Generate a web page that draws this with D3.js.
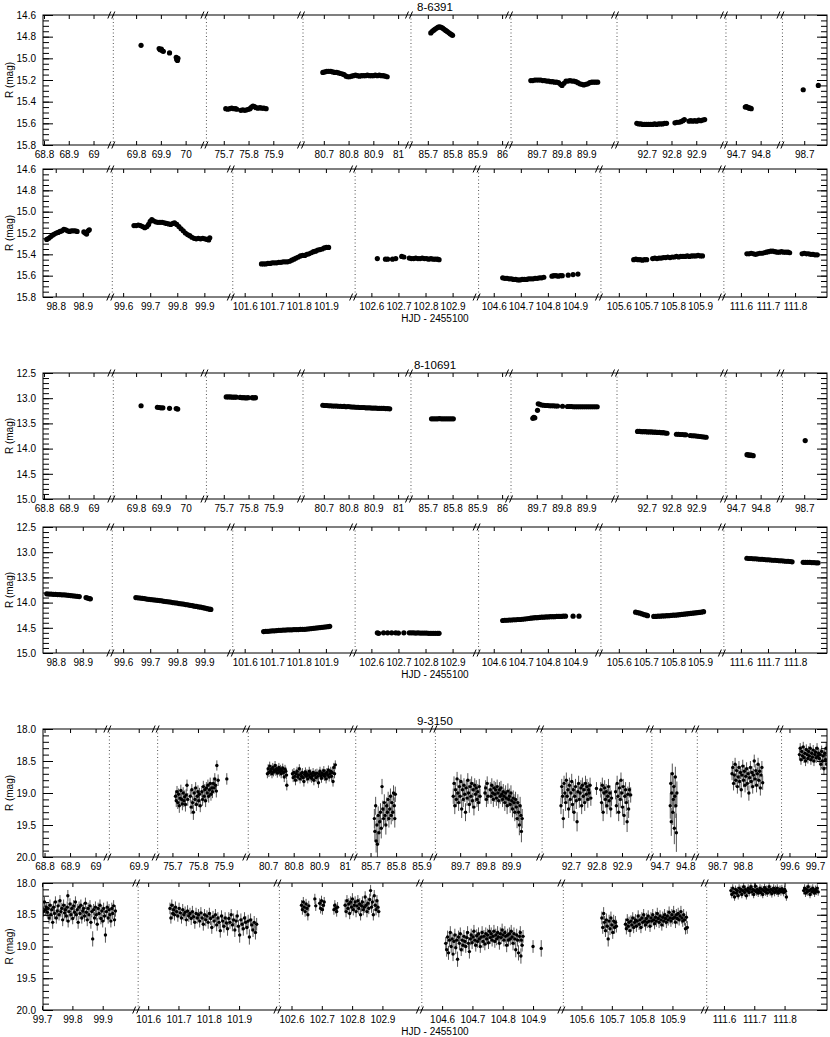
<!DOCTYPE html>
<meta charset="utf-8">

<!-- Load d3.js -->
<script src="https://d3js.org/d3.v7.min.js"></script>

<style>
  body { margin: 0; background: #fff; }
  text { font-family: "Liberation Sans", Arial, Helvetica, sans-serif; fill: #000; }
</style>

<div id="chart"></div>

<script>
// star names
const stars = ["8-6391", "8-10691", "9-3150"];

// windows of the broken time axis (HJD - 2455100) and their tick labels
const segsA = [[68.796,69.08],[69.708,70.084],[75.63,76.02],[80.616,81.052],[85.632,86.036],[89.596,90.024],[92.58,93.02],[94.66,94.888],[98.612,98.792]];
const ticksA = [[68.8,68.9,69],[69.8,69.9,70],[75.7,75.8,75.9],[80.7,80.8,80.9,81],[85.7,85.8,85.9,86],[89.7,89.8,89.9],[92.7,92.8,92.9],[94.7,94.8],[98.7]];
const segsB = [[98.753,99.009],[99.56,100.005],[101.556,102.008],[102.54,102.996],[104.544,104.996],[105.534,105.988],[111.537,111.918]];
const ticksB = [[98.8,98.9],[99.6,99.7,99.8,99.9],[101.6,101.7,101.8,101.9],[102.6,102.7,102.8,102.9],[104.6,104.7,104.8,104.9],[105.6,105.7,105.8,105.9],[111.6,111.7,111.8]];
const segsC = [[68.794,69.054],[69.785,69.974],[75.642,75.997],[80.622,81.043],[85.642,85.954],[89.603,90.021],[92.587,93.017],[94.669,94.847],[98.622,98.952],[99.569,99.747]];
const ticksC = [[68.8,68.9,69],[69.9],[75.7,75.8,75.9],[80.7,80.8,80.9,81],[85.7,85.8,85.9],[89.7,89.8,89.9],[92.7,92.8,92.9],[94.7,94.8],[98.7,98.8],[99.6,99.7]];
const segsD = [[99.703,100.017],[101.567,102.033],[102.56,103.03],[104.533,105.0],[105.54,106.013],[111.543,111.94]];
const ticksD = [[99.7,99.8,99.9],[101.6,101.7,101.8,101.9],[102.6,102.7,102.8,102.9],[104.6,104.7,104.8,104.9],[105.6,105.7,105.8,105.9],[111.6,111.7,111.8]];

// the 8-xxxx light curves are split between the two rows at this time
const rowSplit = 98.76;

// magnitude ranges and labelled ticks
const yDom6391 = [14.6, 15.8];
const yMaj6391 = [14.6, 14.8, 15.0, 15.2, 15.4, 15.6, 15.8];
const yDom10691 = [12.5, 15.0];
const yMaj10691 = [12.5, 13.0, 13.5, 14.0, 14.5, 15.0];
const yDom3150 = [18.0, 20.0];
const yMaj3150 = [18.0, 18.5, 19.0, 19.5, 20.0];

// 8-6391 : [HJD-2455100, R]
const obs6391 = [
[69.82,14.88],[69.893,14.91],[69.897,14.92],[69.902,14.915],[69.906,14.93],[69.91,14.935],[69.935,14.95],[69.962,14.99],[69.964,15.01],[69.967,15.02],[69.969,15.0],
[75.708,15.465],[75.716,15.47],[75.724,15.465],[75.732,15.46],[75.74,15.465],[75.748,15.465],[75.753,15.47],
[75.769,15.48],[75.777,15.475],[75.785,15.48],[75.793,15.475],[75.8,15.47],[75.806,15.465],[75.812,15.45],[75.818,15.44],[75.824,15.445],[75.83,15.455],[75.838,15.46],[75.846,15.455],[75.854,15.46],[75.862,15.46],[75.871,15.465],
[80.696,15.13],[80.704,15.125],[80.712,15.12],[80.72,15.12],[80.728,15.12],[80.736,15.125],[80.744,15.13],[80.752,15.13],[80.76,15.135],[80.768,15.14],[80.776,15.145],[80.782,15.15],
[80.79,15.165],[80.797,15.17],[80.804,15.17],[80.812,15.165],[80.82,15.16],[80.828,15.155],[80.836,15.16],[80.844,15.165],[80.852,15.16],[80.86,15.16],[80.868,15.16],[80.876,15.155],[80.884,15.16],[80.892,15.16],[80.9,15.16],[80.908,15.155],[80.916,15.16],[80.924,15.155],[80.932,15.16],[80.94,15.16],[80.948,15.165],[80.956,15.17],
[85.712,14.765],[85.718,14.75],[85.724,14.74],[85.73,14.73],[85.736,14.72],[85.742,14.712],[85.748,14.709],[85.754,14.714],[85.76,14.722],[85.766,14.732],[85.772,14.742],[85.778,14.752],[85.784,14.762],[85.79,14.772],[85.796,14.782],[85.8,14.788],
[89.676,15.205],[89.684,15.205],[89.692,15.2],[89.7,15.2],[89.708,15.2],[89.716,15.2],[89.724,15.205],[89.732,15.205],[89.74,15.21],[89.748,15.21],[89.756,15.215],[89.764,15.215],[89.772,15.22],[89.78,15.22],[89.788,15.225],[89.796,15.24],[89.802,15.25],[89.81,15.23],[89.818,15.21],[89.826,15.21],[89.834,15.205],[89.842,15.21],[89.85,15.21],[89.858,15.215],[89.866,15.225],[89.874,15.235],[89.882,15.24],[89.89,15.245],[89.898,15.24],[89.906,15.235],[89.914,15.225],[89.922,15.22],[89.93,15.22],[89.938,15.22],[89.946,15.22],
[92.66,15.6],[92.668,15.605],[92.676,15.605],[92.684,15.61],[92.692,15.61],[92.7,15.61],[92.708,15.61],[92.716,15.61],[92.724,15.61],[92.732,15.605],[92.74,15.61],[92.748,15.605],[92.756,15.605],[92.764,15.605],[92.772,15.6],[92.78,15.6],
[92.814,15.595],[92.822,15.59],[92.83,15.59],[92.838,15.585],[92.846,15.575],[92.852,15.565],
[92.871,15.58],[92.878,15.575],[92.886,15.58],[92.894,15.575],[92.902,15.58],[92.91,15.57],[92.918,15.575],[92.926,15.57],[92.934,15.565],
[94.738,15.45],[94.742,15.445],[94.746,15.45],[94.75,15.455],[94.754,15.46],[94.758,15.46],[94.762,15.465],
[98.696,15.29],[98.757,15.25],
[98.767,15.26],[98.774,15.25],[98.781,15.235],[98.788,15.22],[98.795,15.21],[98.802,15.2],[98.809,15.195],[98.816,15.185],[98.823,15.18],[98.83,15.165],[98.837,15.17],[98.844,15.18],[98.851,15.185],[98.858,15.18],[98.865,15.18],[98.872,15.18],[98.879,15.185],
[98.904,15.19],[98.909,15.2],[98.914,15.21],[98.92,15.18],[98.924,15.17],
[99.64,15.13],[99.648,15.13],[99.656,15.125],[99.664,15.13],[99.672,15.14],[99.68,15.15],[99.688,15.14],[99.694,15.12],[99.7,15.09],[99.706,15.075],[99.712,15.085],[99.72,15.095],[99.728,15.1],[99.736,15.1],[99.744,15.1],[99.752,15.105],[99.76,15.11],[99.768,15.115],[99.776,15.12],[99.784,15.11],[99.79,15.105],[99.798,15.12],[99.806,15.14],[99.814,15.16],[99.822,15.18],[99.83,15.2],[99.838,15.215],[99.846,15.225],[99.854,15.24],[99.862,15.25],[99.87,15.255],[99.878,15.25],[99.886,15.255],[99.894,15.25],[99.902,15.255],[99.91,15.26],[99.916,15.265],[99.92,15.245],
[101.662,15.49],[101.67,15.49],[101.678,15.49],[101.686,15.485],[101.694,15.485],[101.702,15.48],[101.71,15.48],[101.718,15.48],[101.726,15.475],[101.734,15.475],[101.742,15.47],[101.75,15.47],[101.758,15.47],[101.766,15.465],[101.774,15.455],[101.782,15.445],[101.79,15.435],[101.798,15.425],[101.806,15.415],[101.814,15.41],[101.822,15.41],[101.83,15.4],[101.838,15.395],[101.846,15.385],[101.854,15.375],[101.862,15.37],[101.87,15.36],[101.878,15.355],[101.886,15.35],[101.894,15.34],[101.902,15.335],[101.91,15.335],
[102.622,15.44],[102.652,15.445],[102.66,15.445],[102.678,15.445],[102.69,15.44],[102.712,15.42],[102.72,15.425],[102.74,15.435],[102.748,15.44],[102.756,15.44],[102.764,15.435],[102.772,15.44],[102.78,15.44],[102.788,15.435],[102.796,15.44],[102.804,15.44],[102.812,15.445],[102.82,15.44],[102.828,15.445],[102.836,15.445],[102.844,15.445],[102.85,15.45],
[104.633,15.62],[104.641,15.625],[104.649,15.625],[104.657,15.63],[104.665,15.63],[104.673,15.635],[104.681,15.635],[104.689,15.64],[104.697,15.64],[104.705,15.635],[104.713,15.635],[104.721,15.635],[104.729,15.63],[104.737,15.63],[104.745,15.63],[104.753,15.625],[104.761,15.625],[104.769,15.62],[104.777,15.62],[104.785,15.615],
[104.815,15.605],[104.822,15.6],[104.83,15.6],[104.838,15.605],[104.846,15.6],[104.853,15.6],[104.875,15.595],[104.893,15.59],[104.911,15.585],
[105.655,15.45],[105.663,15.445],[105.671,15.45],[105.679,15.45],[105.687,15.455],[105.695,15.45],[105.703,15.45],
[105.725,15.44],[105.733,15.435],[105.741,15.44],[105.749,15.435],[105.757,15.435],[105.765,15.43],[105.773,15.43],[105.781,15.425],[105.789,15.43],[105.797,15.425],[105.805,15.425],[105.813,15.42],[105.821,15.425],[105.829,15.42],[105.837,15.42],[105.845,15.42],[105.853,15.415],[105.861,15.42],[105.869,15.415],[105.877,15.415],[105.885,15.415],[105.893,15.41],[105.901,15.415],[105.909,15.415],
[111.622,15.395],[111.63,15.395],[111.638,15.39],[111.646,15.395],[111.654,15.4],[111.662,15.395],[111.67,15.39],[111.678,15.39],[111.686,15.385],[111.694,15.38],[111.702,15.375],[111.71,15.37],[111.718,15.37],[111.726,15.375],[111.734,15.38],[111.742,15.38],[111.75,15.375],[111.758,15.38],[111.766,15.38],[111.774,15.38],[111.78,15.385],
[111.826,15.395],[111.834,15.39],[111.842,15.395],[111.85,15.395],[111.858,15.4],[111.866,15.4],[111.874,15.405],[111.882,15.405]
];

// 8-10691 : [HJD-2455100, R]
const obs10691 = [
[69.82,13.15],[69.886,13.18],[69.893,13.185],[69.9,13.19],[69.908,13.19],[69.935,13.2],[69.962,13.205],[69.968,13.215],
[75.71,12.975],[75.718,12.975],[75.726,12.975],[75.734,12.98],[75.742,12.98],[75.75,12.98],[75.766,12.985],[75.774,12.99],[75.782,12.99],[75.79,12.995],[75.798,12.99],[75.815,12.99],[75.822,12.995],[75.828,12.99],
[80.696,13.14],[80.704,13.145],[80.712,13.145],[80.72,13.15],[80.728,13.15],[80.736,13.155],[80.744,13.155],[80.752,13.155],[80.76,13.16],[80.768,13.16],[80.776,13.165],[80.782,13.16],[80.79,13.17],[80.798,13.165],[80.806,13.17],[80.814,13.175],[80.822,13.175],[80.83,13.18],[80.838,13.18],[80.846,13.185],[80.854,13.185],[80.862,13.185],[80.87,13.19],[80.878,13.19],[80.886,13.19],[80.894,13.195],[80.902,13.195],[80.91,13.195],[80.918,13.2],[80.926,13.2],[80.934,13.2],[80.942,13.2],[80.95,13.205],[80.958,13.205],[80.966,13.21],
[85.715,13.41],[85.723,13.41],[85.731,13.41],[85.739,13.41],[85.747,13.405],[85.755,13.41],[85.763,13.41],[85.771,13.41],[85.779,13.41],[85.787,13.41],[85.795,13.41],[85.803,13.41],
[89.684,13.4],[89.688,13.38],[89.692,13.39],[89.703,13.24],[89.706,13.11],[89.712,13.12],[89.72,13.135],[89.728,13.14],[89.736,13.145],[89.744,13.145],[89.752,13.15],[89.76,13.15],[89.768,13.15],[89.776,13.155],[89.784,13.155],[89.804,13.16],[89.824,13.165],[89.832,13.165],[89.84,13.165],[89.848,13.17],[89.856,13.17],[89.864,13.17],[89.872,13.17],[89.88,13.17],[89.888,13.17],[89.896,13.17],[89.904,13.17],[89.912,13.17],[89.92,13.17],[89.928,13.17],[89.936,13.17],[89.944,13.17],
[92.663,13.66],[92.671,13.66],[92.679,13.665],[92.687,13.665],[92.695,13.665],[92.703,13.67],[92.711,13.67],[92.719,13.67],[92.727,13.675],[92.735,13.675],[92.743,13.68],[92.751,13.68],[92.759,13.685],[92.767,13.685],[92.775,13.69],[92.782,13.695],
[92.82,13.715],[92.828,13.715],[92.836,13.72],[92.844,13.72],[92.852,13.725],[92.858,13.725],
[92.876,13.74],[92.884,13.745],[92.892,13.745],[92.9,13.75],[92.908,13.755],[92.916,13.76],[92.924,13.765],[92.932,13.77],[92.94,13.775],
[94.745,14.12],[94.75,14.125],[94.755,14.13],[94.76,14.13],[94.765,14.135],[94.77,14.14],
[98.704,13.84],
[98.767,13.825],[98.775,13.83],[98.783,13.83],[98.791,13.835],[98.799,13.835],[98.807,13.84],[98.815,13.84],[98.823,13.845],[98.831,13.845],[98.839,13.85],[98.847,13.855],[98.855,13.86],[98.863,13.865],[98.871,13.87],[98.879,13.875],[98.887,13.88],
[98.912,13.9],[98.918,13.91],[98.924,13.92],[98.928,13.925],
[99.647,13.9],[99.655,13.905],[99.663,13.91],[99.671,13.915],[99.679,13.92],[99.687,13.93],[99.695,13.935],[99.703,13.94],[99.711,13.945],[99.719,13.95],[99.727,13.955],[99.735,13.96],[99.743,13.965],[99.751,13.975],[99.759,13.98],[99.767,13.985],[99.775,13.99],[99.783,14.0],[99.791,14.005],[99.799,14.01],[99.807,14.02],[99.815,14.025],[99.823,14.03],[99.831,14.04],[99.839,14.045],[99.847,14.055],[99.855,14.06],[99.863,14.07],[99.871,14.075],[99.879,14.085],[99.887,14.09],[99.895,14.1],[99.903,14.11],[99.911,14.12],[99.919,14.13],[99.924,14.135],
[101.67,14.575],[101.678,14.57],[101.686,14.57],[101.694,14.565],[101.702,14.56],[101.71,14.56],[101.718,14.555],[101.726,14.55],[101.734,14.55],[101.742,14.545],[101.75,14.545],[101.758,14.54],[101.766,14.54],[101.774,14.54],[101.782,14.535],[101.79,14.535],[101.798,14.535],[101.806,14.53],[101.814,14.53],[101.822,14.53],[101.83,14.525],[101.838,14.52],[101.846,14.515],[101.854,14.51],[101.862,14.505],[101.87,14.5],[101.878,14.495],[101.886,14.49],[101.894,14.485],[101.902,14.48],[101.91,14.475],[101.914,14.47],
[102.622,14.6],[102.627,14.61],[102.645,14.6],[102.66,14.6],[102.675,14.6],[102.69,14.6],[102.7,14.605],[102.72,14.6],[102.74,14.6],[102.748,14.6],[102.756,14.6],[102.764,14.605],[102.772,14.6],[102.78,14.605],[102.788,14.605],[102.796,14.605],[102.804,14.605],[102.812,14.61],[102.82,14.61],[102.828,14.61],[102.836,14.61],[102.844,14.61],[102.85,14.61],
[104.633,14.355],[104.641,14.35],[104.649,14.35],[104.657,14.345],[104.665,14.345],[104.673,14.34],[104.681,14.34],[104.689,14.335],[104.697,14.335],[104.705,14.33],[104.713,14.325],[104.721,14.32],[104.729,14.315],[104.737,14.31],[104.745,14.305],[104.753,14.3],[104.761,14.3],[104.769,14.295],[104.777,14.29],[104.785,14.29],[104.793,14.285],[104.801,14.285],[104.809,14.28],[104.817,14.28],[104.825,14.28],[104.833,14.275],[104.841,14.275],[104.849,14.275],[104.857,14.27],[104.865,14.27],
[104.893,14.27],[104.915,14.27],
[105.662,14.19],[105.67,14.2],[105.678,14.21],[105.686,14.225],[105.694,14.24],[105.702,14.25],[105.706,14.26],
[105.729,14.275],[105.737,14.275],[105.745,14.27],[105.753,14.27],[105.761,14.265],[105.769,14.265],[105.777,14.26],[105.785,14.26],[105.793,14.255],[105.801,14.25],[105.809,14.25],[105.817,14.245],[105.825,14.24],[105.833,14.235],[105.841,14.23],[105.849,14.225],[105.857,14.22],[105.865,14.215],[105.873,14.21],[105.881,14.205],[105.889,14.2],[105.897,14.195],[105.905,14.19],[105.913,14.18],
[111.622,13.12],[111.63,13.125],[111.638,13.125],[111.646,13.13],[111.654,13.13],[111.662,13.135],[111.67,13.14],[111.678,13.14],[111.686,13.145],[111.694,13.15],[111.702,13.15],[111.71,13.155],[111.718,13.16],[111.726,13.16],[111.734,13.165],[111.742,13.17],[111.75,13.17],[111.758,13.175],[111.766,13.18],[111.774,13.18],[111.782,13.185],[111.789,13.19],
[111.83,13.2],[111.838,13.2],[111.846,13.2],[111.854,13.2],[111.862,13.205],[111.87,13.205],[111.878,13.21],[111.885,13.21]
];

// 9-3150 : [HJD-2455100, R, error]
const obs3150 = [
[75.712,19.05,0.09],[75.715,19.12,0.1],[75.718,18.98,0.09],[75.721,19.15,0.1],[75.724,19.02,0.09],[75.727,19.2,0.11],[75.73,19.08,0.1],[75.733,18.96,0.09],[75.736,19.1,0.1],[75.739,19.17,0.1],[75.742,19.0,0.09],[75.745,19.12,0.1],[75.748,19.06,0.1],[75.751,19.18,0.11],[75.754,19.03,0.09],[75.757,18.88,0.09],[75.76,19.1,0.1],
[75.77,19.05,0.1],[75.773,19.22,0.11],[75.776,18.95,0.09],[75.779,19.15,0.1],[75.782,19.3,0.12],[75.785,19.0,0.09],[75.788,19.1,0.1],[75.791,18.92,0.09],[75.794,19.18,0.1],[75.797,19.05,0.1],[75.8,18.98,0.1],[75.803,19.12,0.1],[75.806,19.02,0.1],[75.809,19.2,0.1],
[75.815,18.98,0.09],[75.818,19.1,0.1],[75.821,18.9,0.09],[75.824,19.05,0.1],[75.827,18.95,0.09],[75.83,19.12,0.1],[75.833,18.92,0.09],[75.836,19.0,0.1],[75.839,18.88,0.09],[75.842,19.05,0.1],[75.845,18.95,0.09],[75.848,18.85,0.09],[75.851,19.02,0.1],[75.854,18.92,0.09],[75.857,18.98,0.1],[75.86,18.85,0.09],[75.863,18.92,0.09],[75.866,18.78,0.09],[75.869,18.88,0.09],[75.872,18.97,0.1],[75.874,18.57,0.08],[75.879,18.8,0.09],[75.913,18.78,0.09],
[80.697,18.7,0.07],[80.7,18.62,0.07],[80.703,18.68,0.07],[80.706,18.58,0.07],[80.709,18.66,0.07],[80.712,18.63,0.07],[80.715,18.7,0.07],[80.718,18.6,0.07],[80.721,18.67,0.07],[80.724,18.64,0.07],[80.727,18.57,0.07],[80.73,18.66,0.07],[80.733,18.62,0.07],[80.736,18.69,0.07],[80.739,18.64,0.07],[80.742,18.6,0.07],[80.745,18.67,0.07],[80.748,18.63,0.07],[80.751,18.7,0.07],[80.754,18.65,0.07],[80.757,18.61,0.07],[80.76,18.68,0.07],[80.763,18.75,0.08],[80.766,18.63,0.07],[80.769,18.66,0.07],[80.772,18.72,0.07],[80.773,18.88,0.08],
[80.795,18.7,0.07],[80.798,18.76,0.07],[80.801,18.68,0.07],[80.804,18.74,0.07],[80.807,18.8,0.08],[80.81,18.7,0.07],[80.813,18.66,0.07],[80.816,18.75,0.07],[80.819,18.72,0.07],[80.822,18.62,0.07],[80.825,18.78,0.07],[80.828,18.7,0.07],[80.831,18.74,0.07],[80.834,18.68,0.07],[80.837,18.76,0.07],[80.84,18.82,0.08],[80.843,18.71,0.07],[80.846,18.67,0.07],[80.849,18.74,0.07],[80.852,18.7,0.07],[80.855,18.78,0.07],[80.858,18.72,0.07],[80.861,18.66,0.07],[80.864,18.75,0.07],[80.867,18.7,0.07],[80.87,18.77,0.07],[80.873,18.73,0.07],[80.876,18.68,0.07],[80.879,18.8,0.08],[80.882,18.72,0.07],[80.885,18.7,0.07],[80.888,18.76,0.07],[80.891,18.69,0.07],[80.894,18.74,0.07],[80.897,18.84,0.08],[80.9,18.7,0.07],[80.903,18.66,0.07],[80.906,18.73,0.07],[80.909,18.77,0.07],[80.912,18.69,0.07],[80.915,18.72,0.07],[80.918,18.65,0.07],[80.921,18.74,0.07],[80.924,18.7,0.07],[80.927,18.78,0.07],[80.93,18.68,0.07],[80.933,18.72,0.07],[80.936,18.64,0.07],[80.939,18.75,0.07],[80.942,18.7,0.07],[80.945,18.66,0.07],[80.948,18.74,0.07],[80.951,18.68,0.07],[80.954,18.82,0.08],[80.957,18.6,0.07],[80.96,18.7,0.07],[80.963,18.56,0.07],
[85.715,19.4,0.15],[85.717,19.6,0.16],[85.72,19.2,0.14],[85.722,19.75,0.18],[85.725,19.5,0.15],[85.727,19.8,0.2],[85.73,19.35,0.14],[85.733,19.62,0.17],[85.736,19.45,0.15],[85.739,19.3,0.14],[85.742,19.55,0.16],[85.745,18.9,0.12],[85.748,19.25,0.13],[85.751,19.4,0.14],[85.754,19.15,0.13],[85.757,19.35,0.14],[85.76,19.5,0.15],[85.763,19.2,0.13],[85.766,19.3,0.14],[85.769,19.1,0.12],[85.772,19.4,0.14],[85.775,19.25,0.13],[85.778,19.05,0.12],[85.781,19.35,0.14],[85.784,19.15,0.13],[85.787,19.3,0.14],[85.79,19.0,0.12],[85.793,19.2,0.13],[85.795,19.4,0.14],[85.797,19.02,0.12],
[89.673,19.05,0.12],[89.676,18.85,0.11],[89.679,19.2,0.13],[89.682,18.95,0.12],[89.685,19.1,0.12],[89.688,18.78,0.11],[89.691,19.0,0.12],[89.694,19.15,0.13],[89.697,18.9,0.12],[89.7,19.05,0.12],[89.703,18.82,0.11],[89.706,19.25,0.14],[89.709,18.95,0.12],[89.712,19.1,0.12],[89.715,18.88,0.11],[89.718,19.02,0.12],[89.721,19.3,0.14],[89.724,18.92,0.12],[89.727,19.08,0.12],[89.73,18.8,0.11],[89.733,19.0,0.12],[89.736,19.18,0.13],[89.739,18.9,0.12],[89.742,19.05,0.12],[89.745,18.85,0.11],[89.748,19.12,0.12],[89.751,18.95,0.12],[89.754,19.22,0.13],[89.757,18.88,0.11],[89.76,19.02,0.12],[89.763,18.92,0.12],[89.766,19.1,0.12],[89.769,18.98,0.12],[89.772,19.15,0.13],[89.775,18.9,0.12],[89.778,19.05,0.12],
[89.797,19.0,0.12],[89.8,18.92,0.12],[89.803,19.1,0.12],[89.806,18.85,0.11],[89.809,19.05,0.12],
[89.818,18.95,0.12],[89.821,19.05,0.12],[89.824,18.88,0.11],[89.827,19.0,0.12],[89.83,19.1,0.12],[89.833,18.92,0.11],[89.836,19.02,0.12],[89.839,18.95,0.12],[89.842,19.08,0.12],[89.845,18.9,0.11],[89.848,19.0,0.12],[89.851,19.12,0.12],[89.854,18.95,0.12],[89.857,19.05,0.12],[89.86,18.92,0.11],[89.863,19.02,0.12],[89.866,19.1,0.12],[89.869,18.98,0.12],[89.872,19.05,0.12],[89.875,19.15,0.13],[89.878,19.0,0.12],[89.881,19.08,0.12],[89.884,19.2,0.13],[89.887,18.97,0.12],[89.89,19.1,0.12],[89.893,19.05,0.12],[89.896,19.18,0.13],[89.899,19.0,0.12],[89.902,19.12,0.12],[89.905,19.25,0.13],[89.908,19.08,0.12],[89.911,19.15,0.13],[89.914,19.3,0.14],[89.917,19.1,0.12],[89.92,19.22,0.13],[89.923,19.4,0.15],[89.926,19.15,0.13],[89.929,19.3,0.14],[89.932,19.5,0.16],[89.935,19.2,0.14],[89.938,19.35,0.15],[89.94,19.6,0.17],[89.943,19.4,0.15],
[92.661,19.2,0.13],[92.664,18.9,0.12],[92.667,19.05,0.12],[92.67,19.4,0.15],[92.673,18.85,0.12],[92.676,19.0,0.12],[92.679,19.15,0.13],[92.682,18.8,0.12],[92.685,19.05,0.12],[92.688,18.95,0.12],[92.691,19.25,0.14],[92.694,18.88,0.12],[92.697,19.1,0.13],[92.7,19.0,0.12],[92.703,18.82,0.12],[92.706,19.18,0.13],[92.709,18.95,0.12],[92.712,19.3,0.14],[92.715,19.05,0.12],[92.718,18.9,0.12],[92.721,19.12,0.13],[92.724,19.45,0.15],[92.727,18.98,0.12],[92.73,18.85,0.12],[92.733,19.1,0.13],[92.736,19.0,0.12],[92.739,18.92,0.12],[92.742,19.2,0.13],[92.745,18.88,0.12],[92.748,19.05,0.12],[92.751,18.95,0.12],[92.754,19.15,0.13],[92.757,18.85,0.12],[92.76,19.02,0.12],[92.763,18.9,0.12],[92.766,19.1,0.13],[92.769,18.95,0.12],[92.772,19.0,0.12],[92.775,18.88,0.12],[92.778,19.08,0.12],
[92.8,18.93,0.1],
[92.817,18.95,0.12],[92.82,19.15,0.13],[92.823,18.88,0.12],[92.826,19.3,0.14],[92.829,19.0,0.12],[92.832,18.92,0.12],[92.835,19.1,0.13],[92.838,18.98,0.12],[92.841,19.2,0.13],[92.844,19.05,0.12],[92.847,18.9,0.12],[92.85,19.12,0.13],[92.853,19.0,0.12],[92.856,19.25,0.13],[92.859,19.08,0.12],
[92.875,18.98,0.12],[92.878,19.2,0.13],[92.881,18.85,0.12],[92.884,19.05,0.12],[92.887,19.3,0.14],[92.89,18.92,0.12],[92.893,19.1,0.13],[92.896,18.8,0.12],[92.899,19.0,0.12],[92.902,19.22,0.13],[92.905,18.9,0.12],[92.908,19.35,0.15],[92.911,19.05,0.12],[92.914,18.95,0.12],[92.917,19.15,0.13],[92.92,19.45,0.16],[92.923,19.02,0.12],[92.926,19.25,0.14],[92.929,18.95,0.12],[92.934,19.03,0.12],
[94.741,19.2,0.2],[94.743,18.85,0.17],[94.745,19.45,0.22],[94.747,19.0,0.18],[94.749,18.7,0.16],[94.751,19.3,0.2],[94.753,19.1,0.19],[94.755,18.9,0.17],[94.757,19.55,0.25],[94.759,19.05,0.18],[94.761,18.75,0.16],[94.763,19.2,0.19],[94.765,19.62,0.3],[94.767,19.0,0.18],
[98.758,18.7,0.1],[98.761,18.6,0.1],[98.764,18.85,0.11],[98.767,18.72,0.1],[98.77,18.55,0.1],[98.773,18.8,0.11],[98.776,18.65,0.1],[98.779,18.9,0.11],[98.782,18.75,0.1],[98.785,18.6,0.1],[98.788,18.82,0.11],[98.791,18.68,0.1],[98.794,18.95,0.12],[98.797,18.72,0.1],[98.8,18.58,0.1],[98.803,18.8,0.11],[98.806,18.66,0.1],[98.809,18.88,0.11],[98.812,18.74,0.1],[98.815,18.62,0.1],[98.818,18.85,0.11],[98.821,18.7,0.1],[98.824,19.0,0.12],[98.827,18.76,0.1],[98.83,18.6,0.1],[98.833,18.82,0.11],[98.836,18.68,0.1],[98.839,18.9,0.11],[98.842,18.72,0.1],[98.845,18.5,0.1],[98.848,18.78,0.11],[98.851,18.65,0.1],[98.854,18.88,0.11],[98.857,18.7,0.1],[98.86,18.55,0.1],[98.863,18.8,0.11],[98.866,18.66,0.1],[98.869,18.92,0.12],[98.872,18.72,0.1],[98.875,18.6,0.1],[98.878,18.84,0.11],
[99.639,18.4,0.08],[99.642,18.3,0.08],[99.645,18.48,0.08],[99.648,18.35,0.08],[99.651,18.42,0.08],[99.654,18.28,0.08],[99.657,18.45,0.08],[99.66,18.38,0.08],[99.663,18.5,0.08],[99.666,18.32,0.08],[99.669,18.4,0.08],[99.672,18.46,0.08],[99.675,18.35,0.08],[99.678,18.42,0.08],[99.681,18.3,0.08],[99.684,18.48,0.08],[99.687,18.38,0.08],[99.69,18.44,0.08],[99.693,18.33,0.08],[99.696,18.5,0.08],[99.699,18.4,0.08],[99.702,18.36,0.08],[99.705,18.45,0.08],[99.708,18.3,0.08],[99.711,18.42,0.08],[99.714,18.38,0.08],[99.717,18.46,0.08],
[99.72,18.4,0.09],[99.723,18.55,0.09],[99.726,18.35,0.09],[99.729,18.5,0.09],[99.732,18.42,0.09],[99.735,18.62,0.1],[99.738,18.38,0.09],[99.741,18.48,0.09],[99.744,18.3,0.09],[99.747,18.55,0.09],[99.75,18.44,0.09],[99.753,18.36,0.09],[99.756,18.5,0.09],[99.759,18.28,0.09],[99.762,18.45,0.09],[99.765,18.4,0.09],[99.768,18.58,0.1],[99.771,18.35,0.09],[99.774,18.47,0.09],[99.777,18.42,0.09],[99.78,18.52,0.09],[99.783,18.38,0.09],[99.785,18.2,0.09],[99.786,18.6,0.1],[99.789,18.45,0.09],[99.792,18.33,0.09],[99.795,18.5,0.09],[99.798,18.4,0.09],[99.801,18.56,0.09],[99.804,18.36,0.09],[99.807,18.46,0.09],[99.81,18.3,0.09],[99.813,18.5,0.09],[99.816,18.42,0.09],[99.819,18.62,0.1],[99.822,18.38,0.09],[99.825,18.48,0.09],[99.828,18.35,0.09],[99.831,18.55,0.09],[99.834,18.44,0.09],[99.837,18.4,0.09],[99.84,18.52,0.09],[99.843,18.32,0.09],[99.846,18.46,0.09],[99.849,18.58,0.1],[99.852,18.4,0.09],[99.855,18.5,0.09],[99.858,18.36,0.09],[99.861,18.62,0.1],[99.864,18.45,0.09],[99.867,18.88,0.12],[99.87,18.42,0.09],[99.873,18.55,0.09],[99.876,18.38,0.09],[99.879,18.5,0.09],[99.882,18.65,0.1],[99.885,18.4,0.09],[99.888,18.48,0.09],[99.891,18.35,0.09],[99.894,18.56,0.09],[99.897,18.44,0.09],[99.9,18.6,0.1],[99.903,18.4,0.09],[99.906,18.52,0.09],[99.909,18.82,0.12],[99.912,18.45,0.09],[99.915,18.38,0.09],[99.918,18.55,0.09],[99.921,18.42,0.09],[99.924,18.5,0.09],[99.927,18.6,0.1],[99.93,18.4,0.09],[99.933,18.48,0.09],[99.936,18.36,0.09],[99.939,18.58,0.1],[99.942,18.44,0.09],
[101.672,18.4,0.09],[101.675,18.55,0.09],[101.678,18.35,0.09],[101.681,18.48,0.09],[101.684,18.42,0.09],[101.687,18.5,0.09],[101.69,18.38,0.09],[101.694,18.45,0.09],[101.698,18.52,0.09],[101.702,18.4,0.09],[101.706,18.47,0.09],[101.71,18.55,0.09],[101.714,18.42,0.09],[101.718,18.5,0.09],[101.722,18.46,0.09],[101.726,18.58,0.1],[101.73,18.44,0.09],[101.734,18.52,0.09],[101.738,18.48,0.09],[101.742,18.56,0.1],[101.746,18.45,0.09],[101.75,18.53,0.09],[101.754,18.62,0.1],[101.758,18.48,0.09],[101.762,18.55,0.09],[101.766,18.5,0.09],[101.77,18.6,0.1],[101.774,18.47,0.09],[101.778,18.55,0.09],[101.782,18.65,0.1],[101.786,18.5,0.09],[101.79,18.58,0.1],[101.794,18.52,0.09],[101.798,18.62,0.1],[101.802,18.48,0.09],[101.806,18.56,0.1],[101.81,18.7,0.1],[101.814,18.53,0.09],[101.818,18.6,0.1],[101.822,18.5,0.09],[101.826,18.66,0.1],[101.83,18.55,0.09],[101.834,18.62,0.1],[101.838,18.75,0.11],[101.842,18.52,0.09],[101.846,18.6,0.1],[101.85,18.68,0.1],[101.854,18.55,0.09],[101.858,18.63,0.1],[101.862,18.72,0.11],[101.866,18.56,0.1],[101.87,18.62,0.1],[101.874,18.5,0.09],[101.878,18.66,0.1],[101.882,18.58,0.1],[101.886,18.74,0.11],[101.89,18.6,0.1],[101.894,18.52,0.09],[101.898,18.68,0.1],[101.902,18.82,0.12],[101.906,18.58,0.1],[101.91,18.65,0.1],[101.914,18.72,0.11],[101.918,18.55,0.09],[101.922,18.62,0.1],[101.926,18.7,0.11],[101.93,18.6,0.1],[101.934,18.85,0.12],[101.938,18.58,0.1],[101.942,18.66,0.1],[101.946,18.74,0.11],[101.95,18.62,0.1],[101.954,18.78,0.11],[101.958,18.65,0.1],
[102.633,18.35,0.08],[102.636,18.42,0.08],[102.639,18.3,0.08],[102.642,18.38,0.08],[102.645,18.45,0.08],[102.648,18.33,0.08],[102.651,18.4,0.08],[102.654,18.5,0.09],[102.657,18.36,0.08],
[102.677,18.25,0.08],[102.68,18.36,0.08],
[102.693,18.32,0.08],[102.696,18.4,0.08],[102.699,18.28,0.08],[102.702,18.42,0.08],[102.705,18.35,0.08],[102.708,18.3,0.08],
[102.74,18.42,0.08],[102.743,18.35,0.08],[102.746,18.4,0.08],[102.749,18.45,0.08],[102.752,18.38,0.08],
[102.777,18.35,0.09],[102.78,18.45,0.09],[102.783,18.28,0.09],[102.786,18.4,0.09],[102.789,18.33,0.09],[102.792,18.48,0.09],[102.795,18.3,0.09],[102.798,18.38,0.09],[102.801,18.25,0.09],[102.804,18.42,0.09],[102.807,18.35,0.09],[102.81,18.3,0.09],[102.813,18.45,0.09],[102.816,18.36,0.09],[102.819,18.28,0.09],[102.822,18.4,0.09],[102.825,18.33,0.09],[102.828,18.5,0.09],[102.831,18.36,0.09],[102.834,18.3,0.09],[102.837,18.42,0.09],[102.84,18.38,0.09],[102.843,18.22,0.09],[102.846,18.35,0.09],[102.849,18.45,0.09],[102.852,18.32,0.09],[102.855,18.4,0.09],[102.858,18.26,0.09],[102.861,18.12,0.09],[102.864,18.38,0.09],[102.867,18.3,0.09],[102.87,18.5,0.09],[102.873,18.2,0.09],[102.876,18.35,0.09],[102.879,18.42,0.09],[102.882,18.28,0.09],[102.885,18.38,0.09],[102.888,18.45,0.09],
[104.612,18.95,0.1],[104.615,19.05,0.11],[104.618,18.85,0.1],[104.621,19.1,0.11],[104.624,18.9,0.1],[104.627,18.78,0.1],[104.63,19.0,0.1],[104.633,18.88,0.1],[104.636,19.12,0.11],[104.639,18.92,0.1],[104.642,18.82,0.1],[104.645,19.02,0.1],[104.648,18.9,0.1],[104.651,19.2,0.12],[104.654,18.85,0.1],[104.657,18.95,0.1],[104.66,18.8,0.1],[104.663,19.05,0.1],[104.666,18.9,0.1],[104.669,18.98,0.1],[104.672,18.84,0.1],[104.675,18.92,0.1],[104.678,19.0,0.1],[104.681,18.86,0.1],[104.684,18.78,0.1],[104.687,18.95,0.1],[104.69,19.08,0.11],[104.693,18.88,0.1],[104.696,18.82,0.1],[104.699,18.94,0.1],[104.702,18.85,0.1],[104.705,18.76,0.1],[104.708,18.9,0.1],[104.711,18.98,0.1],[104.714,18.83,0.1],[104.717,18.92,0.1],[104.72,18.8,0.1],[104.723,18.88,0.1],[104.726,19.0,0.1],[104.729,18.85,0.1],[104.732,18.78,0.1],[104.735,18.92,0.1],[104.738,18.84,0.1],[104.741,18.96,0.1],[104.744,18.8,0.1],[104.747,18.88,0.1],[104.75,18.82,0.1],[104.753,18.94,0.1],[104.756,18.76,0.1],[104.759,18.86,0.1],[104.762,18.8,0.1],[104.765,18.9,0.1],[104.768,18.84,0.1],[104.771,18.76,0.1],[104.774,18.92,0.1],[104.777,18.82,0.1],[104.78,18.88,0.1],[104.783,18.78,0.1],[104.786,18.85,0.1],[104.789,18.95,0.1],[104.792,18.8,0.1],[104.795,18.86,0.1],[104.798,18.74,0.1],[104.801,18.82,0.1],[104.804,18.9,0.1],[104.807,18.78,0.1],[104.81,18.84,0.1],[104.813,18.98,0.11],[104.816,18.82,0.1],[104.819,18.9,0.1],[104.822,18.8,0.1],[104.825,18.88,0.1],[104.828,18.76,0.1],[104.831,18.85,0.1],[104.834,18.95,0.11],[104.837,18.8,0.1],[104.84,18.88,0.1],[104.843,19.05,0.12],[104.846,18.82,0.1],[104.849,18.9,0.1],[104.852,19.1,0.12],[104.855,18.84,0.1],[104.858,18.78,0.1],[104.86,19.15,0.12],[104.861,18.9,0.1],[104.864,18.98,0.1],[104.867,18.84,0.1],
[104.9,19.0,0.1],[104.927,19.03,0.13],
[105.667,18.55,0.1],[105.67,18.7,0.1],[105.673,18.48,0.1],[105.676,18.62,0.1],[105.679,18.75,0.1],[105.682,18.58,0.1],[105.685,18.68,0.1],[105.688,18.88,0.12],[105.691,18.6,0.1],[105.694,18.72,0.1],[105.697,18.55,0.1],[105.7,18.66,0.1],[105.703,18.78,0.1],[105.706,18.6,0.1],[105.709,18.7,0.1],[105.712,18.62,0.1],[105.715,18.68,0.1],
[105.745,18.65,0.09],[105.748,18.72,0.09],[105.751,18.58,0.09],[105.754,18.68,0.09],[105.757,18.62,0.09],[105.76,18.75,0.1],[105.763,18.6,0.09],[105.766,18.66,0.09],[105.769,18.55,0.09],[105.772,18.7,0.09],[105.775,18.62,0.09],[105.778,18.58,0.09],[105.781,18.68,0.09],[105.784,18.6,0.09],[105.787,18.52,0.09],[105.79,18.65,0.09],[105.793,18.58,0.09],[105.796,18.7,0.09],[105.799,18.55,0.09],[105.802,18.62,0.09],[105.805,18.5,0.09],[105.808,18.6,0.09],[105.811,18.66,0.09],[105.814,18.56,0.09],[105.817,18.62,0.09],[105.82,18.52,0.09],[105.823,18.6,0.09],[105.826,18.68,0.09],[105.829,18.55,0.09],[105.832,18.6,0.09],[105.835,18.5,0.09],[105.838,18.58,0.09],[105.841,18.64,0.09],[105.844,18.54,0.09],[105.847,18.6,0.09],[105.85,18.48,0.09],[105.853,18.56,0.09],[105.856,18.62,0.09],[105.859,18.52,0.09],[105.862,18.58,0.09],[105.865,18.66,0.09],[105.868,18.54,0.09],[105.871,18.6,0.09],[105.874,18.5,0.09],[105.877,18.56,0.09],[105.88,18.62,0.09],[105.883,18.52,0.09],[105.886,18.58,0.09],[105.889,18.46,0.09],[105.892,18.55,0.09],[105.895,18.6,0.09],[105.898,18.5,0.09],[105.901,18.56,0.09],[105.904,18.45,0.09],[105.907,18.54,0.09],[105.91,18.62,0.09],[105.913,18.5,0.09],[105.916,18.56,0.09],[105.919,18.48,0.09],[105.922,18.58,0.09],[105.925,18.52,0.09],[105.928,18.45,0.09],[105.931,18.55,0.09],[105.934,18.6,0.09],[105.937,18.5,0.09],[105.94,18.58,0.09],[105.943,18.72,0.09],[105.946,18.54,0.09],[105.949,18.7,0.1],
[111.623,18.12,0.06],[111.626,18.18,0.06],[111.629,18.08,0.06],[111.632,18.15,0.06],[111.635,18.22,0.06],[111.638,18.1,0.06],[111.641,18.16,0.06],[111.644,18.12,0.06],[111.647,18.2,0.06],[111.65,18.08,0.06],[111.653,18.14,0.06],[111.656,18.1,0.06],[111.659,18.18,0.06],[111.662,18.12,0.06],[111.665,18.06,0.06],[111.668,18.15,0.06],[111.671,18.1,0.06],[111.674,18.2,0.06],[111.677,18.12,0.06],[111.68,18.08,0.06],[111.683,18.15,0.06],[111.686,18.1,0.06],[111.689,18.06,0.06],[111.692,18.14,0.06],[111.695,18.1,0.06],[111.698,18.18,0.06],[111.701,18.12,0.06],[111.704,18.05,0.06],[111.707,18.14,0.06],[111.71,18.1,0.06],[111.713,18.16,0.06],[111.716,18.12,0.06],[111.719,18.08,0.06],[111.722,18.15,0.06],[111.725,18.1,0.06],[111.728,18.18,0.06],[111.731,18.12,0.06],[111.734,18.07,0.06],[111.737,18.14,0.06],[111.74,18.1,0.06],[111.743,18.16,0.06],[111.746,18.11,0.06],[111.749,18.06,0.06],[111.752,18.14,0.06],[111.755,18.1,0.06],[111.758,18.17,0.06],[111.761,18.12,0.06],[111.764,18.08,0.06],[111.767,18.15,0.06],[111.77,18.1,0.06],[111.773,18.13,0.06],[111.776,18.08,0.06],[111.779,18.16,0.06],[111.782,18.12,0.06],[111.785,18.1,0.06],[111.788,18.14,0.06],[111.791,18.09,0.06],[111.794,18.12,0.06],[111.797,18.15,0.06],[111.8,18.1,0.06],[111.803,18.13,0.06],[111.806,18.22,0.06],
[111.863,18.12,0.06],[111.866,18.08,0.06],[111.869,18.16,0.06],[111.872,18.1,0.06],[111.875,18.14,0.06],[111.878,18.06,0.06],[111.881,18.12,0.06],[111.884,18.18,0.06],[111.887,18.1,0.06],[111.89,18.14,0.06],[111.893,18.08,0.06],[111.896,18.12,0.06],[111.899,18.16,0.06],[111.902,18.1,0.06],[111.905,18.13,0.06],[111.908,18.08,0.06],[111.911,18.14,0.06]
];

// ---- layout ----
const W = 830, H = 1037;
const plotLeft = 43, plotRight = 827;

const panels = [
  {obs: obs6391, segs: segsA, ticks: ticksA, ydom: yDom6391, ymaj: yMaj6391, minor: 0.05, top: 15, bottom: 145, title: stars[0], tmax: rowSplit},
  {obs: obs6391, segs: segsB, ticks: ticksB, ydom: yDom6391, ymaj: yMaj6391, minor: 0.05, top: 169, bottom: 297, xlabel: true, tmin: rowSplit},
  {obs: obs10691, segs: segsA, ticks: ticksA, ydom: yDom10691, ymaj: yMaj10691, minor: 0.1, top: 373, bottom: 499, title: stars[1], tmax: rowSplit},
  {obs: obs10691, segs: segsB, ticks: ticksB, ydom: yDom10691, ymaj: yMaj10691, minor: 0.1, top: 527, bottom: 653, xlabel: true, tmin: rowSplit},
  {obs: obs3150, segs: segsC, ticks: ticksC, ydom: yDom3150, ymaj: yMaj3150, minor: 0.1, top: 729, bottom: 857, title: stars[2], err: true},
  {obs: obs3150, segs: segsD, ticks: ticksD, ydom: yDom3150, ymaj: yMaj3150, minor: 0.1, top: 883, bottom: 1010, xlabel: true, err: true}
];

const svg = d3.select("#chart").append("svg")
  .attr("width", W)
  .attr("height", H);

const fmtX = d3.format("~f");
const fmtY = d3.format(".1f");
const tickFont = a => a.selectAll("text")
  .style("font-size", "10px")
  .style("font-family", "'Liberation Sans', Arial, sans-serif");

panels.forEach(function(p, pi) {
  const g = svg.append("g");
  const y = d3.scaleLinear().domain(p.ydom).range([p.top, p.bottom]);
  const tmin = p.tmin === undefined ? -Infinity : p.tmin;
  const tmax = p.tmax === undefined ? Infinity : p.tmax;

  // each window gets a width proportional to its length in days
  const spans = p.segs.map(s => s[1] - s[0]);
  const total = d3.sum(spans);
  let x0 = plotLeft;
  const parts = p.segs.map(function(s, i) {
    const w = (plotRight - plotLeft) * spans[i] / total;
    const part = {dom: s, ticks: p.ticks[i], x0: x0, x1: x0 + w,
                  x: d3.scaleLinear().domain(s).range([x0, x0 + w])};
    x0 += w;
    return part;
  });

  parts.forEach(function(part, i) {
    const id = "clip" + pi + "_" + i;
    svg.append("clipPath").attr("id", id)
      .append("rect")
        .attr("x", part.x0).attr("y", p.top)
        .attr("width", part.x1 - part.x0).attr("height", p.bottom - p.top);

    const pts = p.obs.filter(d => d[0] >= part.dom[0] && d[0] <= part.dom[1] && d[0] >= tmin && d[0] < tmax);
    const layer = g.append("g").attr("clip-path", "url(#" + id + ")");

    if (p.err) {
      layer.selectAll("line.err")
        .data(pts)
        .join("line")
          .attr("class", "err")
          .attr("x1", d => part.x(d[0]))
          .attr("x2", d => part.x(d[0]))
          .attr("y1", d => y(d[1] - d[2]))
          .attr("y2", d => y(d[1] + d[2]))
          .style("stroke", "#555")
          .style("stroke-width", 1);
    }
    layer.selectAll("circle")
      .data(pts)
      .join("circle")
        .attr("cx", d => part.x(d[0]))
        .attr("cy", d => y(d[1]))
        .attr("r", p.err ? 1.7 : 2.6)
        .style("fill", "#000");

    // bottom axis with labels, top axis ticks only
    g.append("g")
      .attr("transform", `translate(0,${p.bottom})`)
      .call(d3.axisBottom(part.x).tickValues(part.ticks).tickSize(-4).tickPadding(5.5).tickFormat(fmtX))
      .call(a => a.select(".domain").remove())
      .call(tickFont);
    g.append("g")
      .attr("transform", `translate(0,${p.top})`)
      .call(d3.axisTop(part.x).tickValues(part.ticks).tickSize(-4).tickFormat(""))
      .call(a => a.select(".domain").remove());

    // axis break: dotted line and // marks
    if (i > 0) {
      const bx = part.x0;
      g.append("line")
        .attr("x1", bx).attr("x2", bx)
        .attr("y1", p.top).attr("y2", p.bottom)
        .style("stroke", "#555")
        .style("stroke-width", 1)
        .style("stroke-dasharray", "1,2.5");
      [p.top, p.bottom].forEach(function(yy) {
        [-4, 0].forEach(function(off) {
          g.append("line")
            .attr("x1", bx + off - 1.5).attr("y1", yy + 3.5)
            .attr("x2", bx + off + 1.5).attr("y2", yy - 3.5)
            .style("stroke", "#000")
            .style("stroke-width", 1);
        });
      });
    }
  });

  // magnitude axes, minor ticks first
  const nMinor = Math.round((p.ydom[1] - p.ydom[0]) / p.minor);
  const minors = d3.range(nMinor + 1).map(k => p.ydom[0] + k * p.minor);
  g.append("g")
    .attr("transform", `translate(${plotLeft},0)`)
    .call(d3.axisLeft(y).tickValues(minors).tickSize(-6).tickFormat(""))
    .call(a => a.select(".domain").remove());
  g.append("g")
    .attr("transform", `translate(${plotLeft},0)`)
    .call(d3.axisLeft(y).tickValues(p.ymaj).tickSize(-10).tickPadding(7).tickFormat(fmtY))
    .call(a => a.select(".domain").remove())
    .call(tickFont);
  g.append("g")
    .attr("transform", `translate(${plotRight},0)`)
    .call(d3.axisRight(y).tickValues(minors).tickSize(-6).tickFormat(""))
    .call(a => a.select(".domain").remove());
  g.append("g")
    .attr("transform", `translate(${plotRight},0)`)
    .call(d3.axisRight(y).tickValues(p.ymaj).tickSize(-10).tickFormat(""))
    .call(a => a.select(".domain").remove());

  // frame
  g.append("rect")
    .attr("x", plotLeft).attr("y", p.top)
    .attr("width", plotRight - plotLeft).attr("height", p.bottom - p.top)
    .style("fill", "none")
    .style("stroke", "#000")
    .style("stroke-width", 1);

  g.append("text")
    .attr("transform", `translate(13,${(p.top + p.bottom) / 2}) rotate(-90)`)
    .attr("text-anchor", "middle")
    .style("font-size", "10px")
    .text("R (mag)");

  if (p.title) {
    g.append("text")
      .attr("x", 435).attr("y", p.top - 4)
      .attr("text-anchor", "middle")
      .style("font-size", "11.5px")
      .text(p.title);
  }
  if (p.xlabel) {
    g.append("text")
      .attr("x", 435).attr("y", p.bottom + 24.5)
      .attr("text-anchor", "middle")
      .style("font-size", "10px")
      .text("HJD - 2455100");
  }
});
</script>
